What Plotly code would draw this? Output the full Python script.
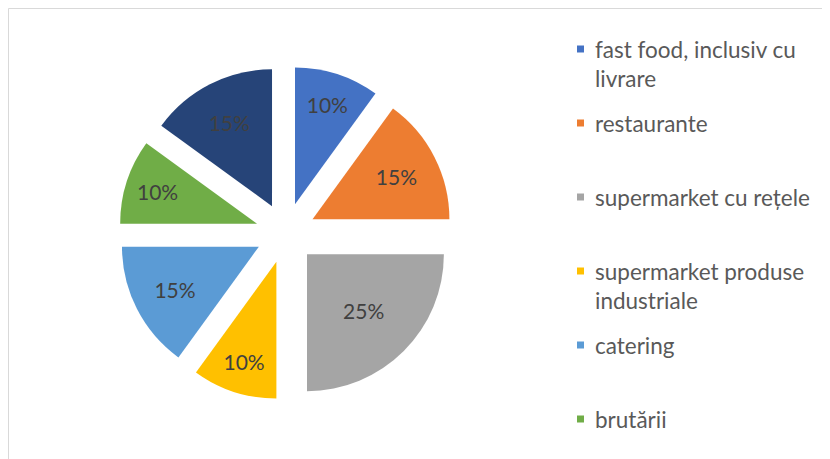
import plotly.graph_objects as go

categories = [
    "fast food, inclusiv cu livrare",
    "restaurante",
    "supermarket cu rețele",
    "supermarket produse industriale",
    "catering",
    "brutării",
    "altele",
]
values = [10, 15, 25, 10, 15, 10, 15]
colors = ["#4472C4", "#ED7D31", "#A5A5A5", "#FFC000", "#5B9BD5", "#70AD47", "#264478"]
legend_lines = [
    ["fast food, inclusiv cu", "livrare"],
    ["restaurante"],
    ["supermarket cu rețele"],
    ["supermarket produse", "industriale"],
    ["catering"],
    ["brutării"],
]

# page body has an 8px margin; figure is sized to fill the rest of the window
OFF = 8
W, H = 830 - OFF, 459 - OFF


def px(sx):
    return (sx - OFF) / W


def py(sy):
    return 1 - (sy - OFF) / H


cx, cy = 285.7, 233.0
half = 167.0

fig = go.Figure()
fig.add_trace(go.Pie(
    labels=categories,
    values=values,
    sort=False,
    direction="clockwise",
    rotation=0,
    pull=[0.22] * len(values),
    marker=dict(colors=colors, line=dict(width=0)),
    textinfo="percent",
    textposition="inside",
    insidetextorientation="horizontal",
    textfont=dict(family="Lato", size=21, color="#404040"),
    showlegend=False,
    hoverinfo="label+percent",
    domain=dict(x=[px(cx - half), px(cx + half)],
                y=[py(cy + half), py(cy - half)]),
))

shapes = [dict(type="rect", xref="paper", yref="paper",
               x0=px(8.5), x1=1.02, y0=-0.02, y1=py(8.5),
               line=dict(color="#D9D9D9", width=1), fillcolor="rgba(0,0,0,0)")]
annotations = []
entry_y = 49
for i, lines in enumerate(legend_lines):
    y = entry_y + i * 74
    shapes.append(dict(type="rect", xref="paper", yref="paper",
                       x0=px(577), x1=px(584), y0=py(y + 3.5), y1=py(y - 3.5),
                       line=dict(width=0), fillcolor=colors[i]))
    for j, t in enumerate(lines):
        annotations.append(dict(xref="paper", yref="paper", x=px(593), y=py(y + j * 29.5),
                                text=t, showarrow=False, xanchor="left", yanchor="middle",
                                font=dict(family="Lato", size=22.5, color="#595959")))

fig.update_layout(
    width=W, height=H,
    margin=dict(l=0, r=0, t=0, b=0),
    paper_bgcolor="white",
    plot_bgcolor="white",
    shapes=shapes,
    annotations=annotations,
)
fig.write_html("out.html")
